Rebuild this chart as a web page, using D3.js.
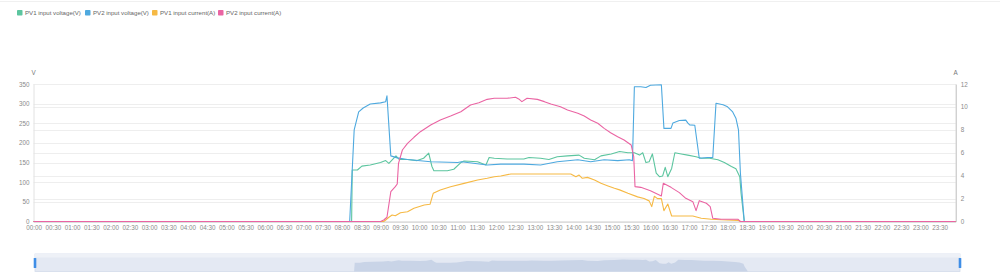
<!DOCTYPE html>
<html>
<head>
<meta charset="utf-8">
<script src="https://cdn.jsdelivr.net/npm/d3@7"></script>
<style>
  body { margin: 0; background: #fff; }
  svg { display: block; font-family: "Liberation Sans", Arial, sans-serif; }
  .tick text { fill: #8a8a8a; font-size: 6.3px; }
</style>
</head>
<body>
<svg width="1000" height="280"></svg>
<script>
// --- data ---
var seriesNames = ["PV1 input voltage(V)", "PV2 input voltage(V)", "PV1 input current(A)", "PV2 input current(A)"];
var seriesColors = ["#5cc59f", "#4ea9df", "#f6b944", "#ea64a3"];
var seriesAxis = ["V", "V", "A", "A"];

var pv1Voltage = [["00:00",0],["08:15",0],["08:16",131],["08:24",131],["08:31",141],["08:44",144],["09:00",150],["09:08",155],["09:13",148],["09:24",167],["09:29",158],["09:42",158],["09:57",155],["10:07",161],["10:15",174],["10:20",140],["10:23",129],["10:44",129],["10:54",133],["11:05",150],["11:10",154],["11:31",152],["11:44",144],["11:49",163],["11:57",161],["12:17",159],["12:43",159],["12:51",163],["13:09",161],["13:22",158],["13:35",165],["13:51",167],["14:09",169],["14:17",161],["14:33",157],["14:43",167],["14:59",172],["15:12",178],["15:25",175],["15:35",175],["15:43",169],["15:48",175],["15:53",150],["15:58",152],["16:03",172],["16:09",123],["16:14",114],["16:19",116],["16:23",138],["16:27",114],["16:33",135],["16:38",175],["16:48",172],["16:58",169],["17:11",165],["17:19",161],["17:32",161],["17:45",157],["17:55",150],["18:06",140],["18:13",134],["18:19",114],["18:21",72],["18:26",0],["23:55",0]];

var pv2Voltage = [["00:00",0],["08:12",0],["08:19",233],["08:26",279],["08:33",289],["08:44",299],["09:00",302],["09:08",305],["09:10",320],["09:16",167],["09:26",162],["09:42",158],["10:18",152],["11:00",150],["11:06",152],["11:46",144],["12:07",146],["12:43",146],["13:09",144],["13:35",152],["14:07",157],["14:27",152],["14:48",157],["15:09",155],["15:27",157],["15:32",155],["15:35",343],["15:45",343],["15:53",341],["16:00",347],["16:17",348],["16:21",237],["16:32",237],["16:35",251],["16:45",257],["16:55",258],["16:58",251],["17:01",246],["17:09",245],["17:16",161],["17:29",163],["17:37",163],["17:42",301],["17:53",297],["18:00",292],["18:08",279],["18:13",263],["18:17",233],["18:20",123],["18:26",0],["23:55",0]];

var pv1Current = [["00:00",0],["09:05",0],["09:08",0.13],["09:13",0.37],["09:18",0.57],["09:23",0.5],["09:31",0.77],["09:42",0.85],["09:52",1.15],["10:08",1.44],["10:17",1.5],["10:22",2.46],["10:33",2.75],["10:49",3.04],["11:10",3.33],["11:31",3.62],["11:46",3.77],["11:57",3.91],["12:07",3.97],["12:23",4.15],["13:56",4.15],["14:04",3.9],["14:09",4.05],["14:14",3.77],["14:22",3.85],["14:33",3.62],["14:43",3.33],["14:54",3.1],["15:04",2.9],["15:12",2.76],["15:25",2.46],["15:40",2.15],["15:50",2.0],["15:58",1.8],["16:02",1.3],["16:06",2.2],["16:11",2.0],["16:17",2.0],["16:21",0.95],["16:27",1.53],["16:33",0.48],["17:06",0.48],["17:19",0.28],["17:35",0.2],["17:50",0.15],["18:16",0.1],["18:20",0],["23:55",0]];

var pv2Current = [["00:00",0],["09:00",0],["09:05",0.13],["09:10",0.37],["09:16",2.6],["09:23",3.04],["09:26",3.27],["09:28",5.08],["09:34",6.24],["09:42",6.82],["09:52",7.35],["10:02",7.84],["10:18",8.42],["10:33",8.86],["10:49",9.2],["11:05",9.58],["11:20",10.17],["11:33",10.36],["11:46",10.66],["11:57",10.75],["12:17",10.75],["12:30",10.85],["12:35",10.7],["12:40",10.46],["12:48",10.75],["13:04",10.66],["13:15",10.46],["13:25",10.25],["13:40",10.02],["13:51",9.73],["14:07",9.44],["14:17",9.2],["14:27",8.86],["14:38",8.57],["14:48",8.13],["14:58",7.75],["15:09",7.4],["15:19",7.11],["15:30",6.68],["15:34",5.66],["15:36",3.04],["15:45",2.98],["16:00",2.69],["16:17",2.23],["16:20",3.33],["16:32",2.98],["16:45",2.52],["16:55",2.02],["17:06",1.73],["17:11",0.95],["17:16",1.82],["17:27",1.59],["17:33",1.3],["17:37",0.28],["17:50",0.2],["18:16",0.2],["18:20",0],["23:55",0]];

var xTickLabels = [];
for (var h = 0; h < 24; h++) {
    var hh = (h < 10 ? "0" : "") + h;
    xTickLabels.push(hh + ":00", hh + ":30");
}
var voltTicks = [0, 50, 100, 150, 200, 250, 300, 350];
var ampTicks = [0, 2, 4, 6, 8, 10, 12];

var allSeries = [pv1Voltage, pv2Voltage, pv1Current, pv2Current];

// --- layout ---
var plotLeft = 33.5, plotRight = 955.7, plotTop = 84, plotBottom = 221.5;

function toMin(s) {
    var p = s.split(":");
    return +p[0] * 60 + +p[1];
}

var x = d3.scaleLinear().domain([0, toMin("23:55")]).range([plotLeft, plotRight]);
var yV = d3.scaleLinear().domain([0, 350]).range([plotBottom, plotTop]);
var yA = d3.scaleLinear().domain([0, 12]).range([plotBottom, plotTop]);

var svg = d3.select("svg");

// top separator
svg.append("line")
    .attr("x1", 0).attr("x2", 1000).attr("y1", 1.5).attr("y2", 1.5)
    .attr("stroke", "#f0f0f0");

// legend
var legend = svg.append("g").attr("class", "legend");
var legendX = [17, 85, 152, 218];
seriesNames.forEach(function(name, i) {
    var g = legend.append("g").attr("transform", "translate(" + legendX[i] + ",10)");
    g.append("rect").attr("width", 5.5).attr("height", 5.5).attr("rx", 0.8)
        .attr("fill", seriesColors[i]);
    g.append("text").attr("x", 8).attr("y", 5)
        .attr("font-size", "6.1px").attr("fill", "#666")
        .text(name);
});

// grid lines for both y axes
svg.append("g").selectAll("line").data(voltTicks).enter().append("line")
    .attr("x1", plotLeft).attr("x2", plotRight)
    .attr("y1", function(d) { return Math.round(yV(d)) + 0.5; })
    .attr("y2", function(d) { return Math.round(yV(d)) + 0.5; })
    .attr("stroke", "#eeeeee");
svg.append("g").selectAll("line").data(ampTicks).enter().append("line")
    .attr("x1", plotLeft).attr("x2", plotRight)
    .attr("y1", function(d) { return Math.round(yA(d)) + 0.5; })
    .attr("y2", function(d) { return Math.round(yA(d)) + 0.5; })
    .attr("stroke", "#eeeeee");

// axes
var yAxisLeft = d3.axisLeft(yV).tickValues(voltTicks).tickSize(0).tickPadding(4);
var gl = svg.append("g").attr("transform", "translate(" + plotLeft + ",0)").call(yAxisLeft);
gl.select(".domain").attr("stroke", "#e2e2e2");

var yAxisRight = d3.axisRight(yA).tickValues(ampTicks).tickSize(0).tickPadding(5);
var gr = svg.append("g").attr("transform", "translate(" + plotRight + ",0)").call(yAxisRight);
gr.select(".domain").attr("stroke", "#bdbdbd");

var xAxis = d3.axisBottom(x)
    .tickValues(xTickLabels.map(toMin))
    .tickFormat(function(d, i) { return xTickLabels[i]; })
    .tickSize(0).tickPadding(4);
var gx = svg.append("g").attr("transform", "translate(0," + plotBottom + ")").call(xAxis);
gx.select(".domain").attr("stroke", "#cccccc");

svg.append("text").attr("x", plotLeft).attr("y", 75).attr("text-anchor", "middle")
    .attr("font-size", "6.3px").attr("fill", "#777").text("V");
svg.append("text").attr("x", plotRight).attr("y", 75).attr("text-anchor", "middle")
    .attr("font-size", "6.3px").attr("fill", "#777").text("A");

// series lines
allSeries.forEach(function(data, i) {
    var ys = seriesAxis[i] === "V" ? yV : yA;
    var line = d3.line()
        .x(function(d) { return x(toMin(d[0])); })
        .y(function(d) { return ys(d[1]); });
    svg.append("path")
        .attr("d", line(data))
        .attr("fill", "none")
        .attr("stroke", seriesColors[i])
        .attr("stroke-width", 1.1)
        .attr("stroke-linejoin", "round");
});

// data zoom slider
var sl = 35, sr = 960, st = 254, sb = 271.5;
var slider = svg.append("g");
slider.append("rect").attr("x", sl).attr("y", st).attr("width", sr - sl).attr("height", sb - st)
    .attr("fill", "#e4e9f3").attr("stroke", "#d3dbea").attr("stroke-width", 0.8);
slider.append("rect").attr("x", sl).attr("y", st).attr("width", sr - sl).attr("height", 3.5)
    .attr("fill", "#eef1f7");

var xs = d3.scaleLinear().domain(x.domain()).range([sl, sr]);
var ysh = d3.scaleLinear().domain([0, d3.max(pv1Voltage, function(d) { return d[1]; })]).range([sb, 259.5]);
var shadow = d3.area()
    .x(function(d) { return xs(toMin(d[0])); })
    .y0(sb)
    .y1(function(d) { return ysh(d[1]); });
slider.append("path").attr("d", shadow(pv1Voltage))
    .attr("fill", "#c9d4e7");

[sl, sr].forEach(function(hx) {
    slider.append("rect").attr("x", hx - 1.3).attr("y", 258).attr("width", 2.6).attr("height", 10)
        .attr("rx", 0.6).attr("fill", "#3f8ee6");
});
</script>
</body>
</html>
